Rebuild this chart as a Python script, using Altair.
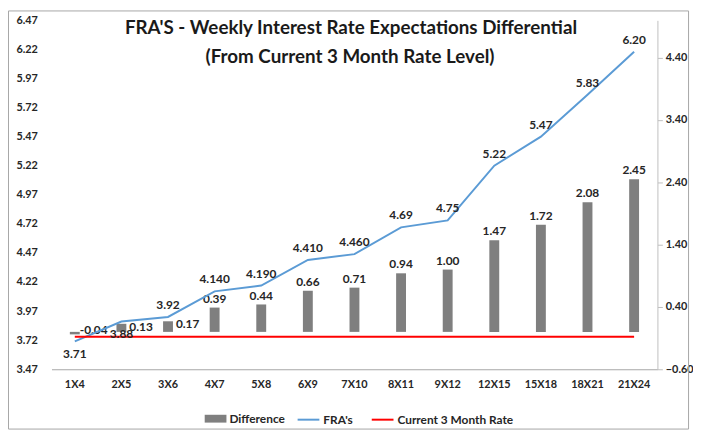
import altair as alt
import pandas as pd

categories = ["1X4", "2X5", "3X6", "4X7", "5X8", "6X9", "7X10", "8X11", "9X12",
              "12X15", "15X18", "18X21", "21X24"]
fra = [3.71, 3.88, 3.92, 4.14, 4.19, 4.41, 4.46, 4.69, 4.75, 5.22, 5.47, 5.83, 6.20]
fra_labels = ["3.71", "3.88", "3.92", "4.140", "4.190", "4.410", "4.460", "4.69",
              "4.75", "5.22", "5.47", "5.83", "6.20"]
difference = [-0.04, 0.13, 0.17, 0.39, 0.44, 0.66, 0.71, 0.94, 1.00, 1.47, 1.72, 2.08, 2.45]
diff_labels = ["-0.04", "0.13", "0.17", "0.39", "0.44", "0.66", "0.71", "0.94", "1.00",
               "1.47", "1.72", "2.08", "2.45"]
current_rate = 3.75
left_ticks = [3.47, 3.72, 3.97, 4.22, 4.47, 4.72, 4.97, 5.22, 5.47, 5.72, 5.97, 6.22, 6.47]
right_ticks = [-0.60, 0.40, 1.40, 2.40, 3.40, 4.40]
bar_series = ["Difference"]
bar_colors = ["#7f7f7f"]
line_series = ["FRA's", "Current 3 Month Rate"]
line_colors = ["#5b9bd5", "#ff0000"]
fra_below = ["1X4", "2X5"]
diff_beside = ["1X4", "2X5", "3X6"]
title_lines = ["FRA'S - Weekly Interest Rate Expectations Differential",
               "(From  Current 3 Month Rate Level)"]

df = pd.DataFrame({
    "cat": categories,
    "fra": fra,
    "fra_label": fra_labels,
    "diff": difference,
    "diff_label": diff_labels,
    "current": [current_rate] * len(categories),
})

FONT = "Lato"
TXT = "#262626"

x_enc = alt.X("cat:N", sort=categories,
              scale=alt.Scale(paddingInner=0, paddingOuter=0),
              axis=alt.Axis(labelAngle=0, ticks=False, tickSize=0, domainColor="#a6a6a6",
                            labelPadding=9, grid=False, title=None))

left_scale = alt.Scale(domain=[3.47, 6.47], nice=False, zero=False)
left_axis = alt.Axis(orient="left", values=left_ticks, format=".2f", grid=False,
                     domain=False, ticks=False, tickSize=0, labelPadding=36,
                     labelAlign="left", title=None)
right_scale = alt.Scale(domain=[-0.6, 5.0], nice=False, zero=False)
right_axis = alt.Axis(orient="right", values=right_ticks, format=".2f", grid=False,
                      domainColor="#bfbfbf", tickColor="#bfbfbf", tickSize=5,
                      labelPadding=3, title=None)

def yl(field):
    return alt.Y(field, scale=left_scale, axis=left_axis, title=None)

def yr(field):
    return alt.Y(field, scale=right_scale, axis=right_axis, title=None)

legend_style = dict(orient="none", direction="horizontal", title=None,
                    columnPadding=15, labelOffset=3, symbolSize=484,
                    labelFont=FONT, labelFontSize=12, labelFontWeight="bold",
                    labelColor=TXT, symbolOpacity=1)
bar_legend = alt.Legend(legendX=155, legendY=392, columns=1,
                        symbolType="M-1,-0.36H1V0.36H-1Z", symbolStrokeWidth=0,
                        **legend_style)
line_legend = alt.Legend(legendX=248, legendY=392, columns=2,
                         symbolType="stroke", symbolStrokeWidth=2, **legend_style)
fill_scale = alt.Scale(domain=bar_series, range=bar_colors)
stroke_scale = alt.Scale(domain=line_series, range=line_colors)

base = alt.Chart(df)

bars = base.transform_calculate(series=f'"{bar_series[0]}"').mark_bar(size=10).encode(
    x=x_enc, y=yr("diff:Q"), y2=alt.datum(0),
    fill=alt.Fill("series:N", scale=fill_scale, legend=bar_legend))
txt_style = dict(font=FONT, fontSize=12, fontWeight="bold", color=TXT)
diff_top = base.transform_filter(
    ~alt.FieldOneOfPredicate(field="cat", oneOf=diff_beside)
).mark_text(baseline="bottom", dy=-2, **txt_style).encode(
    x=x_enc, y=yr("diff:Q"), text="diff_label:N")
diff_side_pos = base.transform_filter(
    alt.FieldOneOfPredicate(field="cat", oneOf=diff_beside)
).transform_filter("datum.diff >= 0").mark_text(
    align="left", baseline="middle", dx=8, dy=3, **txt_style).encode(
    x=x_enc, y=yr("diff:Q"), text="diff_label:N")
diff_side_neg = base.transform_filter(
    alt.FieldOneOfPredicate(field="cat", oneOf=diff_beside)
).transform_filter("datum.diff < 0").mark_text(
    align="left", baseline="middle", dx=5, dy=-4, **txt_style).encode(
    x=x_enc, y=yr("diff:Q"), text="diff_label:N")

right = alt.layer(bars, diff_top, diff_side_pos, diff_side_neg)

fra_line = base.transform_calculate(series=f'"{line_series[0]}"').mark_line(
    strokeWidth=2).encode(
    x=x_enc, y=yl("fra:Q"),
    stroke=alt.Stroke("series:N", scale=stroke_scale, legend=line_legend))
red_line = base.transform_calculate(series=f'"{line_series[1]}"').mark_line(
    strokeWidth=2).encode(
    x=x_enc, y=yl("current:Q"),
    stroke=alt.Stroke("series:N", scale=stroke_scale, legend=line_legend))
fra_above = base.transform_filter(
    ~alt.FieldOneOfPredicate(field="cat", oneOf=fra_below)
).mark_text(baseline="middle", dy=-12, **txt_style).encode(
    x=x_enc, y=yl("fra:Q"), text="fra_label:N")
fra_under = base.transform_filter(
    alt.FieldOneOfPredicate(field="cat", oneOf=fra_below)
).mark_text(baseline="middle", dy=13, **txt_style).encode(
    x=x_enc, y=yl("fra:Q"), text="fra_label:N")

left = alt.layer(fra_line, red_line, fra_above, fra_under)

one = alt.Chart(pd.DataFrame({"k": [0]}))
border = one.mark_rect(fill="transparent", stroke="#a6a6a6", strokeWidth=1).encode(
    x=alt.value(-43.5), x2=alt.value(644.5), y=alt.value(-9.5), y2=alt.value(413.5))
title1 = one.mark_text(font=FONT, fontSize=19, fontWeight="bold", color="#1a1a1a",
                       baseline="middle").encode(
    x=alt.value(303), y=alt.value(8), text=alt.value(title_lines[0]))
title2 = one.mark_text(font=FONT, fontSize=19, fontWeight="bold", color="#1a1a1a",
                       baseline="middle").encode(
    x=alt.value(302), y=alt.value(37), text=alt.value(title_lines[1]))

chart = alt.layer(border, right, left, title1, title2).resolve_scale(
    y="independent"
).properties(
    width=613, height=353,
    autosize=alt.AutoSizeParams(type="none"),
    padding={"left": 44, "top": 10, "right": 36, "bottom": 62},
    background="white",
).configure_view(stroke="transparent").configure_axis(
    labelFont=FONT, labelFontSize=11, labelFontWeight="bold", labelColor=TXT
)

chart.save("out.html", embed_options={"renderer": "svg", "actions": False})
